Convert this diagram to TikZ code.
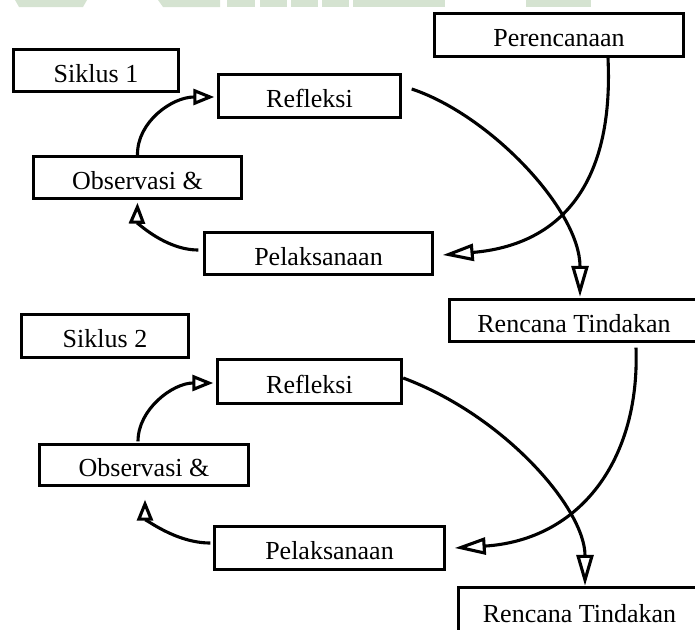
\documentclass[tikz,border=0pt]{standalone}
\usepackage{fontspec}
\setmainfont{Liberation Serif}
\usetikzlibrary{arrows.meta}
\definecolor{wm}{HTML}{D5E3D1}
\begin{document}
\begin{tikzpicture}[x=1pt,y=-1pt,
  box/.style={draw, line width=3.4pt, fill=white, inner sep=0pt,
    font=\fontsize{26}{30}\selectfont, text height=23pt, text depth=0pt},
  conn/.style={line width=3.1pt},
  tipS/.style={-{Triangle[open,length=21pt,width=16pt]}},
  tipL/.style={-{Triangle[open,length=31pt,width=17pt]}},
  wmark/.style={fill=wm, draw=none}]
\useasboundingbox (0,0) rectangle (695,629);
\clip (0,0) rectangle (695,629);
% watermark remnants
\fill[wmark] (15,0) -- (87,0) -- (83,7) -- (19,7) -- cycle;
\fill[wmark] (158,0) -- (220,0) -- (220,7) -- (163,7) -- cycle;
\fill[wmark] (227,0) rectangle (255,7);
\fill[wmark] (260,0) rectangle (287,7);
\fill[wmark] (291,0) rectangle (318,7);
\fill[wmark] (322,0) rectangle (349,7);
\fill[wmark] (353,0) rectangle (445,7);
\fill[wmark] (526,0) rectangle (591,7);
% nodes
\node[box, minimum width=165pt, minimum height=42pt] (sik1) at (96,70.5) {Siklus 1};
\node[box, minimum width=182pt, minimum height=43pt] (ref1) at (309.5,96) {Refleksi};
\node[box, minimum width=208pt, minimum height=42pt] (obs1) at (137.5,177.5) {Observasi \&};
\node[box, minimum width=228pt, minimum height=42pt] (pel1) at (318.5,253.5) {Pelaksanaan};
\node[box, minimum width=249pt, minimum height=43pt] (per) at (559,35) {Perencanaan};
\node[box, minimum width=249pt, minimum height=42pt] (ren1) at (574,320.5) {Rencana Tindakan};
\node[box, minimum width=167pt, minimum height=43pt] (sik2) at (105,336) {Siklus 2};
\node[box, minimum width=184pt, minimum height=44pt] (ref2) at (309.5,381.5) {Refleksi};
\node[box, minimum width=209pt, minimum height=41pt] (obs2) at (144,465) {Observasi \&};
\node[box, minimum width=230pt, minimum height=43pt] (pel2) at (329.5,548) {Pelaksanaan};
\node[box, minimum width=242pt, minimum height=46pt] (ren2) at (579.5,610.5) {Rencana Tindakan};
% connectors, cycle 1
\draw[conn,tipL] ([xshift=9.5pt,yshift=7pt]ref1.east) .. controls (490,115) and (580,210) .. ([xshift=6pt,yshift=1pt]ren1.north);
\draw[conn,tipL] ([xshift=49pt]per.south) .. controls (614,185) and (560,245) .. ([xshift=8.5pt,yshift=-1.5pt]pel1.east);
\draw[conn,tipS] (obs1.north) .. controls (137,122) and (172,97) .. ([xshift=-2.5pt,yshift=-1pt]ref1.west);
\draw[conn,tipS] ([xshift=-4.5pt,yshift=3.5pt]pel1.west) .. controls (165,250) and (137,222) .. ([yshift=-2.5pt]obs1.south);
% connectors, cycle 2
\draw[conn,tipL] ([yshift=3.5pt]ref2.east) .. controls (505,416) and (585,509) .. ([xshift=5.5pt]ren2.north);
\draw[conn,tipL] ([xshift=62pt,yshift=-4.5pt]ren1.south) .. controls (640,460) and (580,540) .. ([xshift=8.5pt]pel2.east);
\draw[conn,tipS] ([xshift=-6pt,yshift=1.5pt]obs2.north) .. controls (138,409) and (173,383) .. ([xshift=-2.5pt,yshift=-1.5pt]ref2.west);
\draw[conn,tipS] ([xshift=-2.5pt,yshift=5pt]pel2.west) .. controls (175,543) and (145,518) .. ([xshift=1pt,yshift=-12.5pt]obs2.south);
\end{tikzpicture}
\end{document}
